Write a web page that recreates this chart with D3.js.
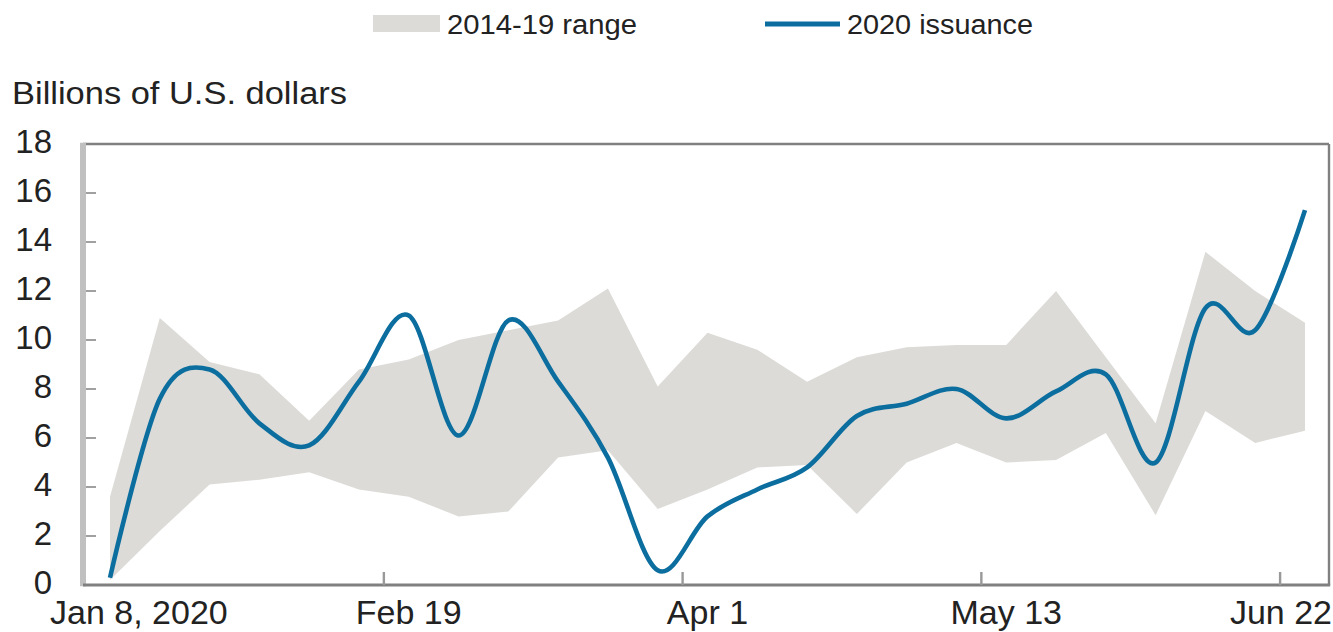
<!DOCTYPE html>
<html>
<head>
<meta charset="utf-8">
<script src="https://cdn.jsdelivr.net/npm/d3@7"></script>
<style>
  body { margin: 0; background: #fff; }
  text { font-family: "Liberation Sans", Arial, Helvetica, sans-serif; fill: #222; }
</style>
</head>
<body>
<svg id="chart" width="1333" height="632"></svg>
<script>
// ---------------- DATA ----------------
const categories = [
  "Jan 8, 2020", "Jan 15", "Jan 22", "Jan 29", "Feb 5", "Feb 12",
  "Feb 19", "Feb 26", "Mar 4", "Mar 11", "Mar 18", "Mar 25",
  "Apr 1", "Apr 8", "Apr 15", "Apr 22", "Apr 29", "May 6",
  "May 13", "May 20", "May 27", "Jun 3", "Jun 10", "Jun 17", "Jun 22"
];
const rangeHigh = [3.6, 10.9, 9.1, 8.6, 6.7, 8.8, 9.2, 10.0, 10.4, 10.8, 12.1, 8.1,
                   10.3, 9.6, 8.3, 9.3, 9.7, 9.8, 9.8, 12.0, 9.3, 6.6, 13.6, 12.0, 10.7];
const rangeLow  = [0.2, 2.2, 4.1, 4.3, 4.6, 3.9, 3.6, 2.8, 3.0, 5.2, 5.5, 3.1,
                   3.9, 4.8, 4.9, 2.9, 5.0, 5.8, 5.0, 5.1, 6.2, 2.85, 7.1, 5.8, 6.3];
const issuance2020 = [0.3, 7.6, 8.8, 6.6, 5.7, 8.3, 11.0, 6.1, 10.8, 8.3, 5.2, 0.6,
                      2.8, 3.9, 4.8, 6.9, 7.4, 8.0, 6.8, 7.9, 8.6, 5.0, 11.3, 10.4, 15.3];
const yTicks = [0, 2, 4, 6, 8, 10, 12, 14, 16, 18];
const xTickLabels = ["Jan 8, 2020", "Feb 19", "Apr 1", "May 13", "Jun 22"];
const legendLabels = ["2014-19 range", "2020 issuance"];
const yAxisTitle = "Billions of U.S. dollars";

// ---------------- LAYOUT ----------------
const W = 1333, H = 632;
const frame = { left: 83, right: 1329, top: 144, bottom: 585 };
const bandColor = "#dcdbd8";
const lineColor = "#0b6e9f";
const frameColor = "#808080";

const svg = d3.select("#chart");

const x = d3.scalePoint().domain(categories).range([frame.left + 27, frame.right - 24]);
const y = d3.scaleLinear().domain([0, 18]).range([frame.bottom, frame.top]);

// band
const area = d3.area()
  .x((d, i) => x(categories[i]))
  .y0((d, i) => y(rangeLow[i]))
  .y1((d, i) => y(rangeHigh[i]));
svg.append("path").datum(rangeHigh).attr("d", area).attr("fill", bandColor);

// frame
svg.append("line").attr("x1", frame.left).attr("x2", frame.right)
  .attr("y1", frame.top).attr("y2", frame.top)
  .attr("stroke", frameColor).attr("stroke-width", 2.6);
svg.append("line").attr("x1", frame.right).attr("x2", frame.right)
  .attr("y1", frame.top).attr("y2", frame.bottom)
  .attr("stroke", frameColor).attr("stroke-width", 2.4);
svg.append("line").attr("x1", frame.left).attr("x2", frame.left)
  .attr("y1", frame.top - 1.3).attr("y2", frame.bottom + 1.3)
  .attr("stroke", "#c0c0c0").attr("stroke-width", 6);

// y axis ticks + labels
svg.append("g").selectAll("line").data(yTicks.filter(v => v > 0 && v < 18)).join("line")
  .attr("x1", frame.left + 3).attr("x2", frame.left + 13)
  .attr("y1", d => y(d)).attr("y2", d => y(d))
  .attr("stroke", "#a0a0a0").attr("stroke-width", 2);
svg.append("g").selectAll("text").data(yTicks).join("text")
  .attr("x", 52).attr("y", d => y(d)).attr("dy", "0.26em")
  .attr("text-anchor", "end").attr("font-size", 33)
  .text(d => d);

// bottom axis
svg.append("line").attr("x1", frame.left).attr("x2", frame.right + 1.2)
  .attr("y1", frame.bottom).attr("y2", frame.bottom)
  .attr("stroke", frameColor).attr("stroke-width", 2.8);

// x ticks between categories, every 6 weeks
const step = x.step();
const labelCats = xTickLabels.map(l => categories.find(c => c === l) || categories[categories.length - 1]);
svg.append("g").selectAll("line").data(labelCats.slice(1)).join("line")
  .attr("x1", d => x(d) - step / 2).attr("x2", d => x(d) - step / 2)
  .attr("y1", frame.bottom - 13).attr("y2", frame.bottom)
  .attr("stroke", "#999").attr("stroke-width", 2.4);

// x labels, centered on their category, kept inside the label area
const xl = svg.append("g").selectAll("text").data(xTickLabels).join("text")
  .attr("y", 624).attr("font-size", 34).attr("text-anchor", "middle")
  .text(d => d);
xl.each(function(d, i) {
  const w = this.getComputedTextLength();
  let cx = x(labelCats[i]);
  cx = Math.max(cx, 50 + w / 2);
  cx = Math.min(cx, W - 1 - w / 2);
  d3.select(this).attr("x", cx);
});

// 2020 line
const line = d3.line()
  .x((d, i) => x(categories[i]))
  .y(d => y(d))
  .curve(d3.curveCardinal.tension(0));
svg.append("path").datum(issuance2020).attr("d", line)
  .attr("fill", "none").attr("stroke", lineColor)
  .attr("stroke-width", 4.6).attr("stroke-linejoin", "round").attr("stroke-linecap", "butt");

// y axis title
svg.append("text").attr("x", 12).attr("y", 104)
  .attr("font-size", 31).attr("textLength", 335).attr("lengthAdjust", "spacingAndGlyphs")
  .text(yAxisTitle);

// legend
svg.append("rect").attr("x", 373).attr("y", 15).attr("width", 67).attr("height", 17)
  .attr("fill", bandColor);
svg.append("text").attr("x", 447).attr("y", 34).attr("font-size", 27)
  .attr("textLength", 190).attr("lengthAdjust", "spacingAndGlyphs")
  .text(legendLabels[0]);
svg.append("line").attr("x1", 765).attr("x2", 840).attr("y1", 24).attr("y2", 24)
  .attr("stroke", lineColor).attr("stroke-width", 5);
svg.append("text").attr("x", 847).attr("y", 34).attr("font-size", 27)
  .attr("textLength", 186).attr("lengthAdjust", "spacingAndGlyphs")
  .text(legendLabels[1]);
</script>
</body>
</html>
